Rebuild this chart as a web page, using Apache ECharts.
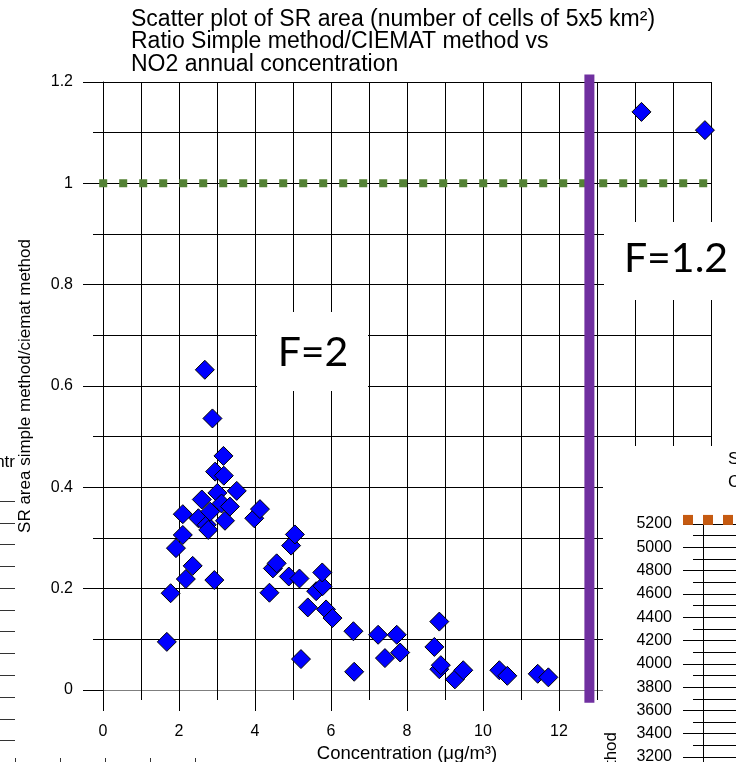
<!DOCTYPE html>
<html><head><meta charset="utf-8">
<script src="https://cdn.jsdelivr.net/npm/echarts@6/dist/echarts.min.js"></script>
<style>html,body{margin:0;padding:0;background:#fff}#c{width:736px;height:762px}</style>
</head><body><div id="c"></div>
<script>
// ---- data ----
const concentration = [1.68,1.78,1.92,2.10,2.10,2.18,2.36,2.51,2.60,2.68,
  2.73,2.77,2.82,2.88,2.93,2.95,3.01,3.12,3.17,3.18,
  3.21,3.34,3.52,3.98,4.13,4.38,4.47,4.57,4.89,4.95,
  5.05,5.17,5.21,5.39,5.61,5.78,5.77,5.87,6.04,6.59,
  6.61,7.24,7.42,7.73,7.82,8.72,8.85,8.85,8.89,9.26,
  9.48,10.43,10.64,11.44,11.72,14.17,15.84];
const ratio = [0.095,0.191,0.280,0.306,0.347,0.219,0.245,0.339,0.376,0.632,
  0.326,0.316,0.352,0.536,0.217,0.431,0.389,0.368,0.462,0.423,
  0.334,0.362,0.393,0.339,0.357,0.192,0.240,0.250,0.224,0.285,
  0.307,0.220,0.061,0.163,0.195,0.205,0.232,0.159,0.142,0.116,
  0.036,0.109,0.063,0.109,0.074,0.085,0.135,0.041,0.049,0.021,
  0.039,0.039,0.028,0.032,0.025,1.141,1.105];
const xTickLabels = ['0','2','4','6','8','10','12'];
const yTickLabels = ['0','0.2','0.4','0.6','0.8','1','1.2'];
const panel2TickLabels = ['3200','3400','3600','3800','4000','4200','4400','4600','4800','5000','5200'];
const refRatio = 1;              // green dotted reference line
const splitConcentration = 12.8; // purple separator
const panel2Level = 5235;        // orange dotted line of the neighbouring chart

const F = '"Liberation Sans", Arial, sans-serif';
const chart = echarts.init(document.getElementById('c'), null, {renderer: 'canvas'});

const option = {
  animation: false,
  title: {
    text: 'Scatter plot of SR area (number of cells of 5x5 km²)\nRatio Simple method/CIEMAT method vs\nNO2 annual concentration',
    left: 126, top: 3,
    textStyle: {fontFamily: F, fontSize: 23, fontWeight: 'normal', color: '#000', lineHeight: 22.5}
  },
  grid: [
    {left: 103, top: 82, width: 608, height: 608, outerBoundsMode: 'none'},
    {left: 683, top: 524, width: 220, height: 279.6, outerBoundsMode: 'none'},
    {left: -200, top: 501, width: 215, height: 239.7, outerBoundsMode: 'none'},
    {left: 15, top: 757, width: 180, height: 1, outerBoundsMode: 'none'},
    {left: 693, top: 524, width: 210, height: 279.6, outerBoundsMode: 'none'}
  ],
  xAxis: [
    {
      gridIndex: 0, type: 'value', min: 0, max: 16, interval: 2,
      axisLine: {show: true, onZero: false, lineStyle: {color: '#7f7f7f', width: 1}},
      axisTick: {show: true, length: 21, lineStyle: {color: '#000'}},
      minorTick: {show: true, splitNumber: 2, length: 10, lineStyle: {color: '#000'}},
      splitLine: {show: true, lineStyle: {color: '#000', width: 1}},
      minorSplitLine: {show: true, lineStyle: {color: '#000', width: 1}},
      axisLabel: {margin: 34, fontSize: 16, fontFamily: F, color: '#000',
        formatter: v => xTickLabels.includes(String(v)) ? String(v) : ''},
      name: 'Concentration (μg/m³)', nameLocation: 'middle', nameGap: 48,
      nameTextStyle: {fontFamily: F, fontSize: 18.5, color: '#000'}
    },
    {gridIndex: 1, type: 'value', min: -0.1, max: 1, show: false},
    {gridIndex: 2, type: 'value', min: 0, max: 1, show: false},
    {
      gridIndex: 3, type: 'value', min: 0, max: 4, interval: 1,
      axisLine: {show: false}, axisLabel: {show: false}, splitLine: {show: false},
      axisTick: {show: true, length: 5, lineStyle: {color: '#333'}}
    },
    {gridIndex: 4, type: 'value', min: 0, max: 1, show: false}
  ],
  yAxis: [
    {
      gridIndex: 0, type: 'value', min: 0, max: 1.2, interval: 0.2,
      axisLine: {show: true, onZero: false, lineStyle: {color: '#000', width: 1}},
      axisTick: {show: true, length: 20, lineStyle: {color: '#000'}},
      minorTick: {show: true, splitNumber: 2, length: 10, lineStyle: {color: '#000'}},
      splitLine: {show: true, lineStyle: {color: '#000', width: 1}},
      minorSplitLine: {show: true, lineStyle: {color: '#000', width: 1}},
      axisLabel: {margin: 30, fontSize: 16, fontFamily: F, color: '#000',
        formatter: v => { const s = String(+v.toFixed(1)); return yTickLabels.includes(s) ? s : ''; }},
      name: 'SR area simple method/ciemat method', nameLocation: 'middle', nameGap: 69,
      nameTextStyle: {fontFamily: F, fontSize: 17, color: '#000'}
    },
    {
      gridIndex: 1, type: 'value', min: 2800, max: 5200, interval: 200, z: 60, offset: -20,
      axisLine: {show: true, onZero: false, lineStyle: {color: '#000', width: 1}},
      axisTick: {show: true, length: 20, lineStyle: {color: '#000'}},
      minorTick: {show: true, splitNumber: 2, length: 10, lineStyle: {color: '#000'}},
      splitLine: {show: true, lineStyle: {color: '#000', width: 1}},
      minorSplitLine: {show: false},
      axisLabel: {margin: 31, fontSize: 16, fontFamily: F, color: '#000',
        formatter: v => panel2TickLabels.includes(String(v)) ? String(v) : ''}
    },
    {
      gridIndex: 2, type: 'value', min: 0, max: 11, interval: 1, z: 60,
      axisLine: {show: false}, axisTick: {show: false}, axisLabel: {show: false},
      splitLine: {show: true, lineStyle: {color: '#333', width: 1}}
    },
    {gridIndex: 3, type: 'value', min: 0, max: 1, show: false},
    {
      gridIndex: 4, type: 'value', min: 2800, max: 5200, interval: 200, z: 60,
      axisLine: {show: false}, axisTick: {show: false}, axisLabel: {show: false},
      splitLine: {show: false},
      minorTick: {show: false, splitNumber: 2},
      minorSplitLine: {show: true, lineStyle: {color: '#000', width: 1}}
    }
  ],
  series: [
    {
      type: 'line', xAxisIndex: 0, yAxisIndex: 0, z: 3, clip: false, silent: true,
      symbol: 'none',
      data: [[-0.1, refRatio], [16.25, refRatio]],
      lineStyle: {color: '#548235', width: 8, type: [8, 12], cap: 'butt'}
    },
    {
      type: 'line', xAxisIndex: 0, yAxisIndex: 0, z: 4, clip: false, silent: true,
      symbol: 'none',
      data: [[splitConcentration, -0.025], [splitConcentration, 1.215]],
      lineStyle: {color: '#7030A0', width: 10, cap: 'butt'}
    },
    {
      type: 'scatter', xAxisIndex: 0, yAxisIndex: 0, z: 5,
      symbol: 'diamond', symbolSize: 19,
      data: concentration.map((x, i) => [x, ratio[i]]),
      itemStyle: {color: '#0000FF', borderColor: '#000', borderWidth: 1, opacity: 1}
    },
    {
      type: 'line', xAxisIndex: 1, yAxisIndex: 1, z: 61, clip: false, silent: true,
      symbol: 'none',
      data: [[-0.1, panel2Level], [1, panel2Level]],
      lineStyle: {color: '#C55A11', width: 10, type: [10, 10], cap: 'butt'}
    }
  ],
  graphic: [
    {type: 'rect', z: 50, shape: {x: 257, y: 312, width: 111, height: 79}, style: {fill: '#fff'}},
    {type: 'text', z: 51, x: 313, y: 353, style: {text: 'F=2', font: '41px Lato, "Open Sans", sans-serif', fill: '#000', textAlign: 'center', textVerticalAlign: 'middle'}},
    {type: 'rect', z: 50, shape: {x: 604, y: 222, width: 140, height: 78}, style: {fill: '#fff'}},
    {type: 'text', z: 51, x: 676, y: 259, style: {text: 'F=1.2', font: '41px Lato, "Open Sans", sans-serif', fill: '#000', textAlign: 'center', textVerticalAlign: 'middle'}},
    {type: 'rect', z: 50, shape: {x: 603, y: 446, width: 140, height: 320}, style: {fill: '#fff'}},
    {type: 'text', z: 52, x: 728, y: 459, style: {text: 'S', font: '17px "Liberation Sans", Arial', fill: '#000', textVerticalAlign: 'middle'}},
    {type: 'text', z: 52, x: 728, y: 482, style: {text: 'C', font: '17px "Liberation Sans", Arial', fill: '#000', textVerticalAlign: 'middle'}},
    {type: 'text', z: 52, x: 611, y: 732, rotation: Math.PI / 2, style: {text: 'SR area simple method/ciemat method', font: '17px "Liberation Sans", Arial', fill: '#000', textAlign: 'right', textVerticalAlign: 'middle'}},
    {type: 'text', z: 52, x: 15, y: 462, style: {text: 'ntr', font: '17px "Liberation Sans", Arial', fill: '#000', textAlign: 'right', textVerticalAlign: 'middle'}}
  ]
};
chart.setOption(option);
</script>
</body></html>
